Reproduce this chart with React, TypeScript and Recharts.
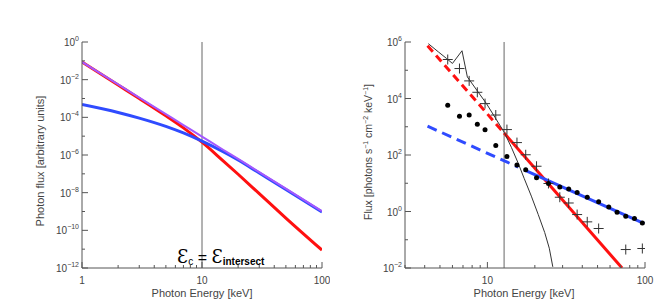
import React from "react"
import { ComposedChart, Line, Scatter, XAxis, YAxis, ReferenceLine } from "recharts"

const FONT = "'Liberation Sans', Arial, Helvetica, sans-serif"
const INK = "#444"
const AXIS = "#555"
const RED = "#ff1010"
const BLUE = "#2f4bff"
const PURPLE = "#a458ff"

// left panel: model photon spectra (arbitrary units)
const leftEnergy = [1, 2, 3, 5, 7, 10, 15, 20, 30, 50, 100]
const thickFlux = [8.7e-2, 5.2e-3, 1.0e-3, 1.2e-4, 2.75e-5, 4.8e-6, 4.9e-7, 9.5e-8, 8.9e-9, 4.5e-10, 8.9e-12]
const thinFlux = [4.8e-4, 1.82e-4, 9.1e-5, 3.3e-5, 1.48e-5, 5.4e-6, 1.48e-6, 5.4e-7, 1.1e-7, 1.48e-8, 9.5e-10]
const totalFlux = [8.7e-2, 5.6e-3, 1.12e-3, 1.48e-4, 3.9e-5, 9.5e-6, 1.9e-6, 6.2e-7, 1.23e-7, 1.62e-8, 1.05e-9]
const leftCut = 10

// right panel: observed spectrum
const binEnergy = [5.6, 6.65, 7.66, 8.63, 9.66, 11.3, 13.3, 15.4, 17.5, 20.5, 24.4, 28.8, 32.8, 37.1, 43.0, 50.8, 58.9, 66.5, 75.5, 85.7, 96.2]
const dotFlux = [5750, 2340, 2630, 1230, 776, 219, 89, 44, 30, 15.8, 9.8, 7.4, 6.2, 4.7, 3.2, 2.2, 1.45, 0.95, 0.68, 0.56, 0.39]
const crossEnergy = [5.6, 6.65, 7.66, 8.63, 9.66, 11.3, 13.3, 15.4, 17.5, 20.5, 24.4, 28.8, 32.8, 37.1, 43.0, 50.8, 75.5, 96.2]
const crossFlux = [2.4e5, 1.15e5, 4.2e4, 1.66e4, 6.6e3, 2.6e3, 794, 275, 102, 40, 9.8, 3.2, 2.0, 0.78, 0.43, 0.25, 0.045, 0.049]
const modelEnergy = [4.22, 4.9, 5.51, 6.0, 6.9, 7.46, 8.73, 9.86, 11.2, 12.8, 14.2, 15.6, 17.1, 19.0, 21.0, 23.1, 24.7, 26.0]
const modelFlux = [8.7e5, 4.4e5, 2.6e5, 1.74e5, 4.9e5, 5.8e4, 1.7e4, 6.6e3, 2.1e3, 630, 186, 55, 15, 3.5, 0.79, 0.18, 0.05, 0.011]
const redDashE = [4.17, 12.76]
const redDashF = [7.4e5, 600]
const redSolidE = [12.76, 71.5]
const redSolidF = [600, 0.01]
const blueDashE = [4.17, 15.7]
const blueDashF = [1050, 37]
const blueSolidE = [17.1, 99]
const blueSolidF = [30, 0.37]
const rightCut = 12.76

const leftXTicks = [1, 2, 3, 4, 5, 6, 7, 8, 9, 10, 20, 30, 40, 50, 60, 70, 80, 90, 100]
const rightXTicks = [3, 4, 5, 6, 7, 8, 9, 10, 20, 30, 40, 50, 60, 70, 80, 90, 100]
const leftYTicks = [1e-12, 1e-11, 1e-10, 1e-9, 1e-8, 1e-7, 1e-6, 1e-5, 1e-4, 1e-3, 1e-2, 1e-1, 1]
const rightYTicks = [1e-2, 1e-1, 1, 10, 100, 1e3, 1e4, 1e5, 1e6]

const zip = (xs: number[], ys: number[]) => xs.map((x, i) => ({ x, y: ys[i] }))

const isDecade = (v: number) => {
  const l = Math.log10(v)
  return Math.abs(l - Math.round(l)) < 1e-6
}
const expOf = (v: number) => Math.round(Math.log10(v))
const expText = (e: number) => (e < 0 ? "\u2212" + Math.abs(e) : String(e))

function BottomTick(props: any) {
  const { x, y, payload } = props
  const v = payload.value
  const major = isDecade(v)
  return (
    <g>
      <line x1={x} y1={y} x2={x} y2={y - (major ? 6 : 3)} stroke={AXIS} />
      {major && (
        <text x={x} y={y + 16} textAnchor="middle" fontSize={10} fill={INK} fontFamily={FONT}>
          {v}
        </text>
      )}
    </g>
  )
}

function TopTick(props: any) {
  const { x, y, payload } = props
  const major = isDecade(payload.value)
  return <line x1={x} y1={y} x2={x} y2={y + (major ? 6 : 3)} stroke={AXIS} />
}

function LeftTick(props: any) {
  const { x, y, payload } = props
  const e = expOf(payload.value)
  const major = e % 2 === 0
  return (
    <g>
      <line x1={x} y1={y} x2={x + (major ? 6 : 3)} y2={y} stroke={AXIS} />
      {major && (
        <text x={x - 3} y={y + 4} textAnchor="end" fontSize={10} fill={INK} fontFamily={FONT}>
          10
          <tspan dy={-5} fontSize={7}>
            {expText(e)}
          </tspan>
        </text>
      )}
    </g>
  )
}

function RightTick(props: any) {
  const { x, y, payload } = props
  const major = expOf(payload.value) % 2 === 0
  return <line x1={x} y1={y} x2={x - (major ? 6 : 3)} y2={y} stroke={AXIS} />
}

function Cross(props: any) {
  const { cx, cy } = props
  if (cx == null || cy == null) return <g />
  return (
    <g stroke="#333" strokeWidth={1}>
      <line x1={cx - 5} y1={cy} x2={cx + 5} y2={cy} />
      <line x1={cx} y1={cy - 5} x2={cx} y2={cy + 5} />
    </g>
  )
}

function Dot(props: any) {
  const { cx, cy } = props
  if (cx == null || cy == null) return <g />
  return <circle cx={cx} cy={cy} r={2.5} fill="#000" />
}

function xAxes(xTicks: number[], xDomain: number[]) {
  return [
    <XAxis
      key="xb"
      type="number"
      dataKey="x"
      scale="log"
      domain={xDomain}
      allowDataOverflow
      ticks={xTicks}
      interval={0}
      tickSize={0}
      tickMargin={0}
      tickLine={false}
      height={31}
      stroke={AXIS}
      tick={BottomTick}
    />,
    <XAxis
      key="xt"
      xAxisId="top"
      orientation="top"
      type="number"
      scale="log"
      domain={xDomain}
      allowDataOverflow
      ticks={xTicks}
      interval={0}
      tickSize={0}
      tickMargin={0}
      tickLine={false}
      height={0}
      stroke={AXIS}
      tick={TopTick}
    />,
  ]
}

function yAxes(yTicks: number[], yDomain: number[], width: number) {
  return [
    <YAxis
      key="yl"
      type="number"
      dataKey="y"
      scale="log"
      domain={yDomain}
      allowDataOverflow
      ticks={yTicks}
      interval={0}
      tickSize={0}
      tickMargin={0}
      tickLine={false}
      width={width}
      stroke={AXIS}
      tick={LeftTick}
    />,
    <YAxis
      key="yr"
      yAxisId="r"
      orientation="right"
      type="number"
      scale="log"
      domain={yDomain}
      allowDataOverflow
      ticks={yTicks}
      interval={0}
      tickSize={0}
      tickMargin={0}
      tickLine={false}
      width={0}
      stroke={AXIS}
      tick={RightTick}
    />,
  ]
}

function LeftPanel() {
  return (
    <ComposedChart width={330} height={299} margin={{ top: 42, right: 8, bottom: 0, left: 0 }}>
      {xAxes(leftXTicks, [1, 100])}
      {yAxes(leftYTicks, [1e-12, 1], 82)}
      <ReferenceLine x={leftCut} stroke="#666" strokeWidth={1} />
      <Line data={zip(leftEnergy, thickFlux)} dataKey="y" type="monotone" stroke={RED} strokeWidth={3} dot={false} isAnimationActive={false} />
      <Line data={zip(leftEnergy, thinFlux)} dataKey="y" type="monotone" stroke={BLUE} strokeWidth={3} dot={false} isAnimationActive={false} />
      <Line data={zip(leftEnergy, totalFlux)} dataKey="y" type="monotone" stroke={PURPLE} strokeWidth={2} dot={false} isAnimationActive={false} />
    </ComposedChart>
  )
}

function RightPanel() {
  return (
    <ComposedChart width={324} height={299} margin={{ top: 42, right: 9, bottom: 0, left: 0 }}>
      {xAxes(rightXTicks, [3, 100])}
      {yAxes(rightYTicks, [1e-2, 1e6], 75)}
      <ReferenceLine x={rightCut} stroke="#666" strokeWidth={1} />
      <Line data={zip(redDashE, redDashF)} dataKey="y" type="linear" stroke={RED} strokeWidth={3} strokeDasharray="8 5" dot={false} isAnimationActive={false} />
      <Line data={zip(redSolidE, redSolidF)} dataKey="y" type="linear" stroke={RED} strokeWidth={3} dot={false} isAnimationActive={false} />
      <Line data={zip(blueDashE, blueDashF)} dataKey="y" type="linear" stroke={BLUE} strokeWidth={3} strokeDasharray="10 6" dot={false} isAnimationActive={false} />
      <Line data={zip(blueSolidE, blueSolidF)} dataKey="y" type="linear" stroke={BLUE} strokeWidth={3} dot={false} isAnimationActive={false} />
      <Line data={zip(modelEnergy, modelFlux)} dataKey="y" type="linear" stroke="#333" strokeWidth={1} dot={false} isAnimationActive={false} />
      <Scatter data={zip(crossEnergy, crossFlux)} dataKey="y" shape={Cross} isAnimationActive={false} />
      <Scatter data={zip(binEnergy, dotFlux)} dataKey="y" shape={Dot} isAnimationActive={false} />
    </ComposedChart>
  )
}

export default function App() {
  const title = { fontFamily: FONT, fontSize: 11, fill: INK } as const
  return (
    <div style={{ position: "absolute", left: 0, top: 0, width: 654, height: 299, background: "#fff" }}>
      <div style={{ position: "absolute", left: 0, top: 0 }}>
        <LeftPanel />
      </div>
      <div style={{ position: "absolute", left: 330, top: 0, background: "#fff" }}>
        <RightPanel />
      </div>
      <svg width={654} height={299} style={{ position: "absolute", left: 0, top: 0, pointerEvents: "none" }}>
        <text x={202} y={297} textAnchor="middle" {...title}>
          Photon Energy [keV]
        </text>
        <text x={524} y={297} textAnchor="middle" {...title}>
          Photon Energy [keV]
        </text>
        <text x={44} y={161} textAnchor="middle" transform="rotate(-90 44 161)" {...title}>
          Photon flux [arbitrary units]
        </text>
        <text x={372} y={152} textAnchor="middle" transform="rotate(-90 372 152)" {...title} fontSize={10.5}>
          Flux [photons s
          <tspan dy={-4} fontSize={7}>{"\u22121"}</tspan>
          <tspan dy={4}> cm</tspan>
          <tspan dy={-4} fontSize={7}>{"\u22122"}</tspan>
          <tspan dy={4}> keV</tspan>
          <tspan dy={-4} fontSize={7}>{"\u22121"}</tspan>
          <tspan dy={4}>]</tspan>
        </text>
        <text x={177} y={263} fill="#000" fontFamily={FONT}>
          <tspan fontSize={18} fontFamily="'DejaVu Serif', serif">{"\u0190"}</tspan>
          <tspan fontSize={10} dy={2}>c</tspan>
          <tspan fontSize={16} dy={-2}>{" = "}</tspan>
          <tspan fontSize={18} fontFamily="'DejaVu Serif', serif">{"\u0190"}</tspan>
          <tspan fontSize={10} fontWeight="bold" dy={2}>intersect</tspan>
        </text>
      </svg>
    </div>
  )
}
